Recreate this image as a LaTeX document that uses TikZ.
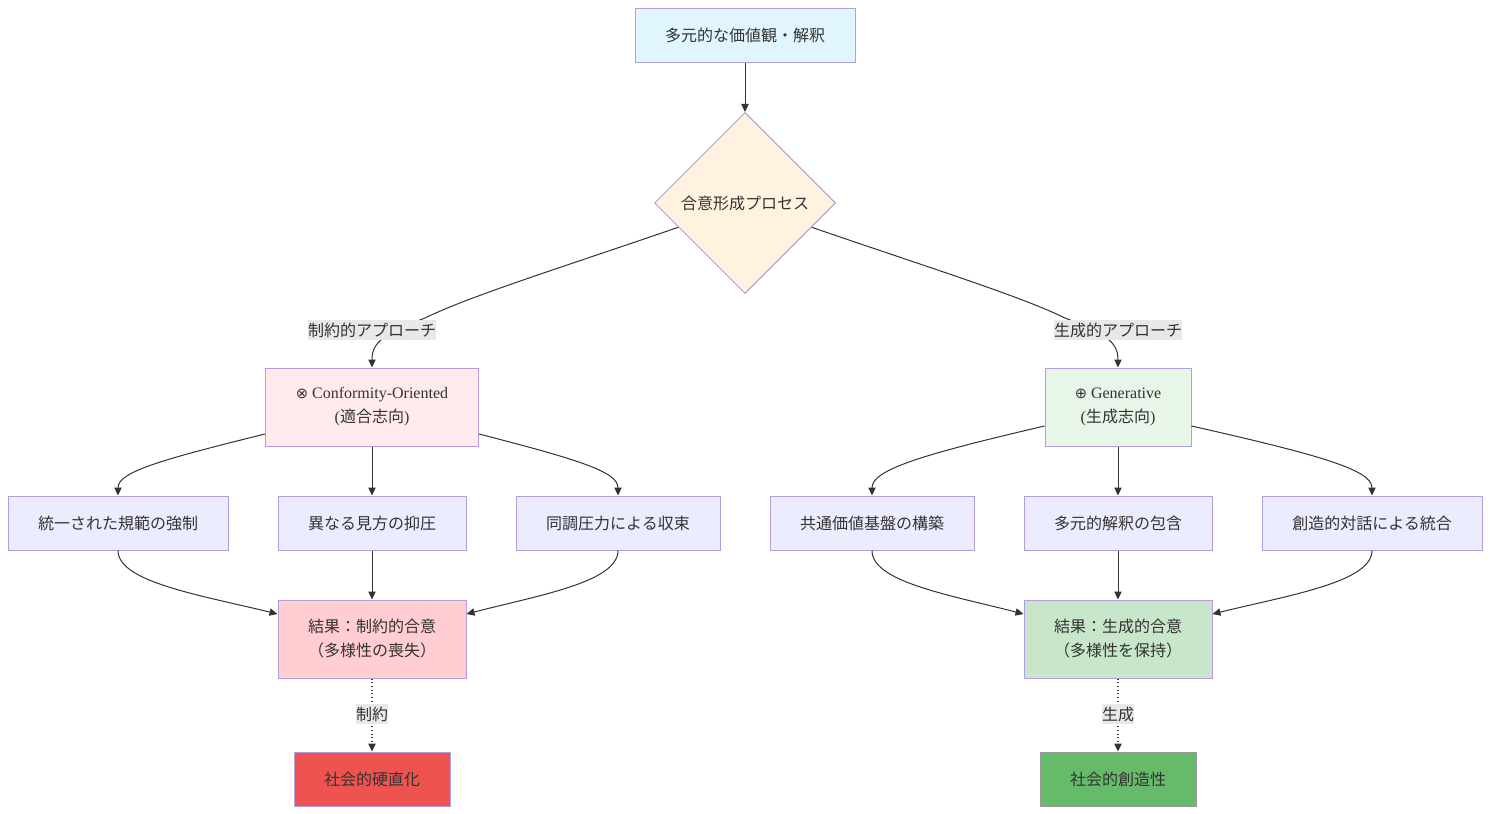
\documentclass[tikz,border=0pt]{standalone}
\usepackage{fontspec}
\setmainfont{Liberation Serif}
\newfontfamily\cjk{Noto Sans CJK JP}
\newfontfamily\symf{DejaVu Sans}
\usetikzlibrary{shapes.geometric,arrows.meta}
\definecolor{edgec}{HTML}{333333}
\definecolor{bordc}{HTML}{B39DDB}
\definecolor{topf}{HTML}{E1F5FE}
\definecolor{diaf}{HTML}{FFF3E0}
\definecolor{conf}{HTML}{FFEBEE}
\definecolor{genf}{HTML}{E8F5E9}
\definecolor{midf}{HTML}{ECECFF}
\definecolor{resr}{HTML}{FFCDD2}
\definecolor{resg}{HTML}{C8E6C9}
\definecolor{finr}{HTML}{EF5350}
\definecolor{fing}{HTML}{66BB6A}
\definecolor{lblf}{HTML}{E8E8E8}
\tikzset{
  box/.style={draw=bordc, line width=0.75pt, text=edgec, align=center, inner sep=0pt,
    font=\fontsize{12}{18}\selectfont},
  elabel/.style={fill=lblf, text=edgec, inner xsep=0pt, inner ysep=2pt, font=\fontsize{12}{14}\selectfont\cjk},
  conn/.style={draw=edgec, line width=0.75pt, -{Triangle[length=6pt,width=5.5pt]}},
  dconn/.style={conn, dotted, line width=1pt}
}
\begin{document}
\begin{tikzpicture}[x=0.75pt,y=-0.75pt]
\useasboundingbox (0,0) rectangle (1490,814);
% nodes
\node[box, fill=topf, minimum width=165pt, minimum height=40.5pt] (top) at (745,35) {\cjk 多元的な価値観・解釈};
\node[box, diamond, aspect=1, fill=diaf, minimum width=135.75pt, minimum height=135.75pt] (dia) at (745,203) {\cjk 合意形成プロセス};
\node[box, fill=conf, minimum width=159.75pt, minimum height=58.5pt] (con) at (372,407) {{\symf\fontsize{11}{18}\selectfont ⊗} Conformity-Oriented\\({\cjk 適合志向})};
\node[box, fill=genf, minimum width=109.5pt, minimum height=58.5pt] (gen) at (1118,407) {{\symf\fontsize{11}{18}\selectfont ⊕} Generative\\({\cjk 生成志向})};
\node[box, fill=midf, minimum width=165pt, minimum height=40.5pt] (c1) at (118,523) {\cjk 統一された規範の強制};
\node[box, fill=midf, minimum width=141pt, minimum height=40.5pt] (c2) at (372,523) {\cjk 異なる見方の抑圧};
\node[box, fill=midf, minimum width=153pt, minimum height=40.5pt] (c3) at (618,523) {\cjk 同調圧力による収束};
\node[box, fill=midf, minimum width=153pt, minimum height=40.5pt] (g1) at (872,523) {\cjk 共通価値基盤の構築};
\node[box, fill=midf, minimum width=141pt, minimum height=40.5pt] (g2) at (1118,523) {\cjk 多元的解釈の包含};
\node[box, fill=midf, minimum width=165pt, minimum height=40.5pt] (g3) at (1372,523) {\cjk 創造的対話による統合};
\node[box, fill=resr, minimum width=141pt, minimum height=58.5pt] (rr) at (372,639) {\cjk 結果：制約的合意\\\cjk（多様性の喪失）};
\node[box, fill=resg, minimum width=141pt, minimum height=58.5pt] (rg) at (1118,639) {\cjk 結果：生成的合意\\\cjk（多様性を保持）};
\node[box, fill=finr, minimum width=117pt, minimum height=40.5pt] (fr) at (372,779) {\cjk 社会的硬直化};
\node[box, draw=gray!80, fill=fing, minimum width=117pt, minimum height=40.5pt] (fg) at (1118,779) {\cjk 社会的創造性};
% edges
\draw[conn] (top) -- (dia);
\draw[conn] (dia.200) .. controls (560,268) and (470,296) .. (425,318) .. controls (384,334) and (372,342) .. (con.north);
\draw[conn] (dia.340) .. controls (930,268) and (1020,296) .. (1065,318) .. controls (1106,334) and (1118,342) .. (gen.north);
\node[elabel] (l1) at (372,330) {制約的アプローチ};
\node[elabel] (l2) at (1118,330) {生成的アプローチ};
\draw[conn] (con.west |- 0,434) .. controls (160,460) and (118,472) .. (c1.north);
\draw[conn] (con) -- (c2);
\draw[conn] (con.east |- 0,434) .. controls (580,460) and (618,472) .. (c3.north);
\draw[conn] (gen.west |- 0,426) .. controls (920,455) and (872,470) .. (g1.north);
\draw[conn] (gen) -- (g2);
\draw[conn] (gen.east |- 0,426) .. controls (1320,455) and (1372,470) .. (g3.north);
\draw[conn] (c1.south) .. controls (118,582) and (200,595) .. (rr.west |- 0,614);
\draw[conn] (c2) -- (rr);
\draw[conn] (c3.south) .. controls (618,582) and (540,595) .. (rr.east |- 0,614);
\draw[conn] (g1.south) .. controls (872,582) and (950,595) .. (rg.west |- 0,614);
\draw[conn] (g2) -- (rg);
\draw[conn] (g3.south) .. controls (1372,582) and (1290,595) .. (rg.east |- 0,614);
\draw[dconn] (rr) -- (fr);
\draw[dconn] (rg) -- (fg);
\node[elabel] (l3) at (372,714) {制約};
\node[elabel] (l4) at (1118,714) {生成};
\end{tikzpicture}
\end{document}
